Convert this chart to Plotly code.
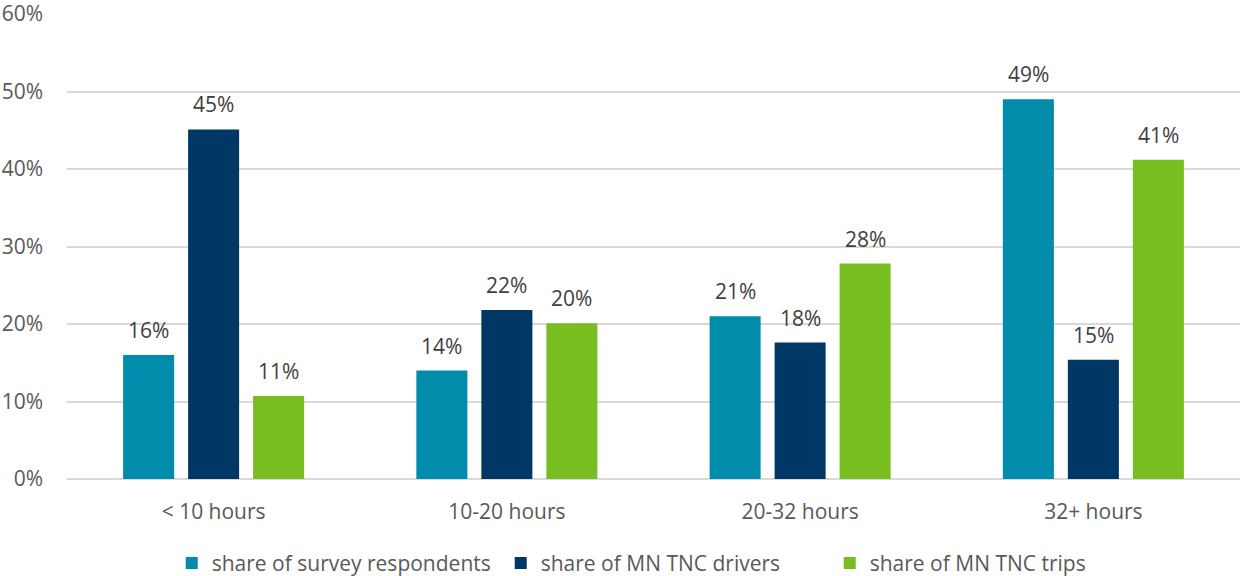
import plotly.graph_objects as go

categories = ["< 10 hours", "10-20 hours", "20-32 hours", "32+ hours"]
series_names = ["share of survey respondents", "share of MN TNC drivers", "share of MN TNC trips"]
survey_respondents = [16.0, 14.0, 21.0, 49.0]
mn_tnc_drivers = [45.1, 21.8, 17.6, 15.4]
mn_tnc_trips = [10.7, 20.1, 27.8, 41.2]
y_ticks = [0, 10, 20, 30, 40, 50, 60]

colors = ["#008CAA", "#003865", "#78BE21"]
series_values = [survey_respondents, mn_tnc_drivers, mn_tnc_trips]

FONT = "Open Sans"
SIZE = 21
fig = go.Figure()
for name, vals, col in zip(series_names, series_values, colors):
    fig.add_trace(go.Bar(
        x=categories, y=vals, name=name,
        marker=dict(color=col, line=dict(width=0)),
        hoverinfo="skip",
    ))

# value labels above each bar, shifted to the bar's slot within the group
slot_px = 65
for i, vals in enumerate(series_values):
    for cat, v in zip(categories, vals):
        fig.add_annotation(
            x=cat, y=v, text=f"{round(v):.0f}%",
            showarrow=False, xshift=(i - 1) * slot_px, yshift=25,
            font=dict(family=FONT, size=SIZE, color="#404040"),
        )

fig.update_layout(
    width=1242, height=576,
    margin=dict(l=67, r=2, t=14, b=97),
    paper_bgcolor="white", plot_bgcolor="white",
    barmode="group", bargap=0.335, bargroupgap=0.215,
    font=dict(family=FONT, size=SIZE, color="#595959"),
    showlegend=True,
    legend=dict(
        orientation="h", xref="paper", x=0.51, xanchor="center",
        yref="container", y=0.022, yanchor="middle",
        font=dict(family=FONT, size=SIZE, color="#595959"),
        itemwidth=30, entrywidth=284,
    ),
)
fig.update_xaxes(
    automargin=False,
    showgrid=False, showline=False, ticks="", ticklabelstandoff=18,
    tickfont=dict(family=FONT, size=SIZE, color="#595959"),
)
fig.update_yaxes(
    automargin=False, ticklabeloverflow="allow",
    range=[0, 60], tickvals=y_ticks, ticktext=[f"{t}%" for t in y_ticks],
    showgrid=True, gridcolor="#D9D9D9", gridwidth=1.5,
    zeroline=True, zerolinecolor="#D9D9D9", zerolinewidth=1.5,
    showline=False, ticks="", ticklabelstandoff=23,
    tickfont=dict(family=FONT, size=SIZE, color="#595959"),
)

fig.write_html("out.html")
